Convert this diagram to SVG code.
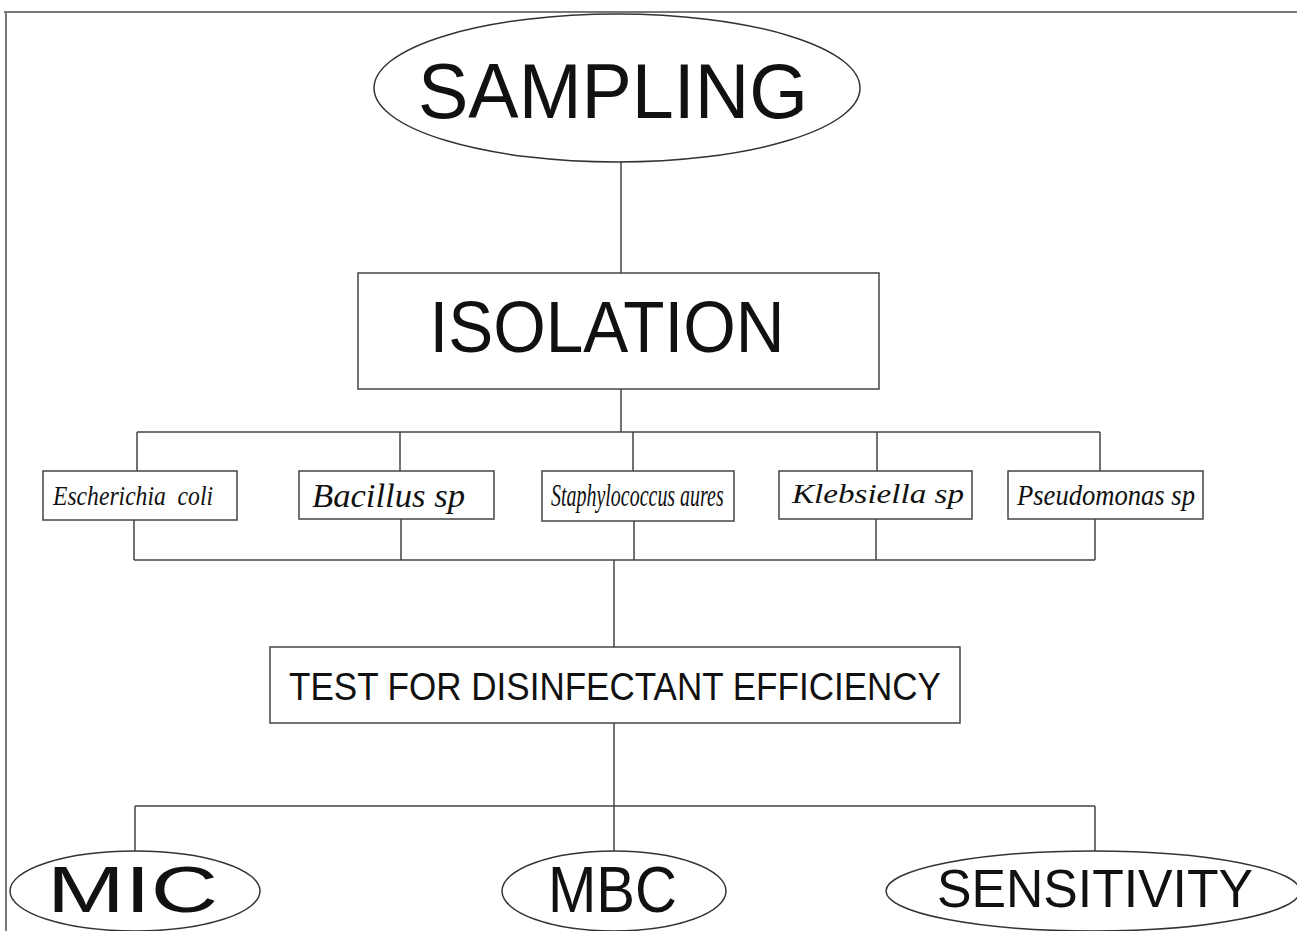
<svg xmlns="http://www.w3.org/2000/svg" width="1297" height="931" viewBox="0 0 1297 931">
<style>
.box{fill:#fff;stroke:#444;stroke-width:1.5}
.ell{fill:#fff;stroke:#333;stroke-width:1.5}
.con{fill:none;stroke:#444;stroke-width:1.5}
.sans{font-family:"Liberation Sans",Arial,sans-serif;fill:#111}
.ser{font-family:"Liberation Serif","Times New Roman",serif;font-style:italic;fill:#111}
</style>
<rect width="1297" height="931" fill="#fff"/>
<path d="M4 12 H1297 M6 12 V931" fill="none" stroke="#777" stroke-width="2"/>
<g id="connectors" class="con">
<path d="M621 162 V273"/>
<path d="M621 389 V432 M137 432 H1100 M137 432 V471 M400 432 V471 M633 432 V471 M877 432 V471 M1100 432 V471"/>
<path d="M134 520 V560 M401 519 V560 M634 521 V560 M876 519 V560 M1095 519 V560 M134 560 H1095"/>
<path d="M614 560 V647"/>
<path d="M614 723 V806 M135 806 H1095 M135 806 V851 M614 806 V851 M1095 806 V851"/>
</g>
<g id="sampling">
<ellipse class="ell" cx="617" cy="88" rx="243" ry="74"/>
<text class="sans" x="613" y="118" font-size="78" text-anchor="middle" textLength="390" lengthAdjust="spacingAndGlyphs">SAMPLING</text>
</g>
<g id="isolation">
<rect class="box" x="358" y="273" width="521" height="116"/>
<text class="sans" x="607" y="352" font-size="72" text-anchor="middle" textLength="355" lengthAdjust="spacingAndGlyphs">ISOLATION</text>
</g>
<g id="ecoli">
<rect class="box" x="43" y="471" width="194" height="49"/>
<text class="ser" x="53" y="505" font-size="27" textLength="160" lengthAdjust="spacingAndGlyphs" xml:space="preserve">Escherichia  coli</text>
</g>
<g id="bacillus">
<rect class="box" x="299" y="471" width="195" height="48"/>
<text class="ser" x="312" y="507" font-size="33" textLength="153" lengthAdjust="spacingAndGlyphs">Bacillus sp</text>
</g>
<g id="staph">
<rect class="box" x="542" y="471" width="192" height="50"/>
<text class="ser" transform="translate(551 506) scale(0.68 1)" x="0" y="0" font-size="31" textLength="254" lengthAdjust="spacingAndGlyphs">Staphylococcus aures</text>
</g>
<g id="klebsiella">
<rect class="box" x="779" y="471" width="193" height="48"/>
<text class="ser" x="792" y="503" font-size="28" textLength="172" lengthAdjust="spacingAndGlyphs">Klebsiella sp</text>
</g>
<g id="pseudomonas">
<rect class="box" x="1008" y="471" width="195" height="48"/>
<text class="ser" x="1017" y="505" font-size="30" textLength="178" lengthAdjust="spacingAndGlyphs">Pseudomonas sp</text>
</g>
<g id="test">
<rect class="box" x="270" y="647" width="690" height="76"/>
<text class="sans" x="289" y="700" font-size="38" textLength="652" lengthAdjust="spacingAndGlyphs">TEST FOR DISINFECTANT EFFICIENCY</text>
</g>
<g id="mic">
<ellipse class="ell" cx="135" cy="891" rx="125" ry="40"/>
<text class="sans" x="47" y="912" font-size="64" textLength="171" lengthAdjust="spacingAndGlyphs">MIC</text>
</g>
<g id="mbc">
<ellipse class="ell" cx="614" cy="891" rx="112" ry="40"/>
<text class="sans" x="548" y="912" font-size="64" textLength="129" lengthAdjust="spacingAndGlyphs">MBC</text>
</g>
<g id="sensitivity">
<ellipse class="ell" cx="1093" cy="891" rx="207" ry="40"/>
<text class="sans" x="937" y="907" font-size="53" textLength="316" lengthAdjust="spacingAndGlyphs">SENSITIVITY</text>
</g>
</svg>
